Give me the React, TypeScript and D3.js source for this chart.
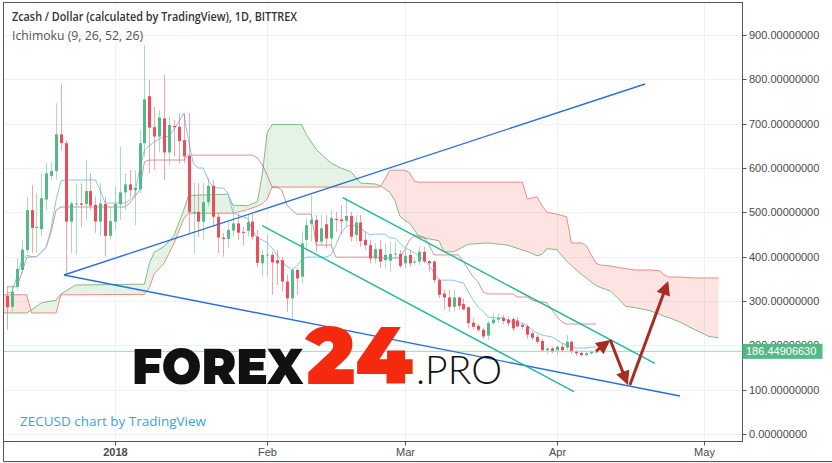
import React from "react";
import * as d3 from "d3";

// ---------------- data ----------------
const firstCandleDay = "2017-12-10";
const opens = [311,287,332,370,415,505,465,462,529,582,593,676,656,479,518,520,519,548,517,479,519,447,479,518,545,563,550,552,656,762,692,671,712,635,695,693,663,627,499,501,479,523,560,490,443,440,459,475,456,458,479,445,385,403,404,392,392,344,306,370,355,438,474,483,434,473,441,485,484,481,492,449,477,438,426,396,417,392,391,405,406,385,404,388,389,411,390,389,347,317,308,287,308,293,286,251,244,235,222,250,258,262,258,259,256,246,243,227,219,210,189,193,189,197,195,208,186,183,178,182,184];
const highs = [332,336,396,438,535,562,543,588,611,614,746,791,663,525,566,566,618,588,535,566,535,513,558,648,588,596,595,686,877,799,738,730,810,716,708,723,723,724,566,566,566,577,573,498,453,479,513,498,468,494,498,460,415,449,411,415,400,359,374,374,457,486,539,494,494,494,505,501,516,533,501,494,494,456,438,430,437,430,434,434,415,415,415,396,422,422,392,392,351,325,325,325,310,306,287,261,248,240,255,272,272,268,265,263,264,250,247,232,224,214,197,197,200,205,223,211,190,187,186,188,190];
const lows = [235,276,325,362,408,408,408,447,505,573,573,640,356,408,404,468,483,505,454,445,400,438,460,483,505,535,471,543,626,588,596,635,573,607,626,611,611,453,408,445,438,513,468,408,400,419,445,438,425,445,438,377,355,355,314,336,321,276,257,314,340,411,434,411,426,419,419,456,449,470,434,434,422,415,385,385,374,374,366,395,374,374,377,381,381,385,366,340,306,280,276,276,280,280,238,236,230,214,212,245,250,248,243,232,240,236,215,212,203,186,180,182,178,184,190,180,176,174,175,179,182];
const closes = [286,321,372,416,505,465,467,532,588,593,676,656,479,520,520,517,548,515,479,520,447,480,519,545,563,550,555,656,755,691,671,714,635,697,692,661,626,501,501,479,523,560,490,443,440,460,475,454,454,478,445,386,404,405,387,385,344,306,370,351,430,471,483,434,464,441,487,483,480,492,445,477,435,426,396,417,389,404,406,407,379,402,385,389,411,389,385,347,314,308,287,308,289,281,250,242,235,220,250,258,262,255,250,238,243,242,224,217,208,189,193,186,197,189,208,186,182,178,182,185,186.4490663];
const lastPrice = 186.4490663;

// Ichimoku conversion / base lines, one value per candle day (from 2017-12-10)
const tenkanSen = [318,320,354,392,404,400,400,410,422,465,528,571,573,573,573,573,573,573,573,550,521,521,521,521,521,528,539,596,641,650,659,665,670,672,686,704,724,660,609,600,600,573,557,555,555,544,499,494,490,487,460,442,438,431,420,404,388,379,370,379,392,399,399,399,399,399,404,426,453,467,471,471,465,456,449,451,451,451,442,442,431,420,415,408,402,393,381,363,347,347,347,347,343,341,320,302,286,277,264,262,262,262,257,253,250,250,244,235,228,223,221,219,212,205,201,196,194,194,194,196,196];
const kijunSen = [332,332,332,363,398,400,400,410,422,456,505,512,512,512,512,512,512,512,512,512,512,512,512,512,512,521,535,550,614,618,618,618,618,618,618,618,618,629,629,629,629,629,629,629,629,629,629,629,629,629,629,623,607,584,557,557,550,517,505,496,496,496,496,426,426,426,426,399,399,399,399,399,399,399,399,399,397,397,397,397,397,415,438,447,447,444,426,404,404,404,404,404,404,388,370,354,343,320,316,316,316,316,316,316,309,309,309,302,298,298,296,280,266,253,248,248,248,248,248,248,248];

// Cloud (leading spans), days counted from 2018-01-01
const cloudDays = [-23,-18,-17,-15,-12,-11,-8,6,7,8,10,12,14,15,23,24,27,29,30,31,32,38,39,41,44,46,48,49,50,53,54,55,56,57,58,59,60,61,62,66,67,69,72,76,80,83,84,86,87,88,90,92,93,95,96,97,98,99,101,103,104,106,109,111,112,113,115,118,121,123];
const senkouA = [273,273,280,296,302,316,336,338,385,410,423,447,505,538,541,516,515,524,585,680,698,698,675,642,611,600,592,580,566,564,560,553,545,527,492,482,476,460,444,436,411,411,428,431,426,415,412,402,405,418,416,390,380,360,352,343,335,330,322,300,288,285,278,270,265,262,253,236,220,217];
const senkouB = [314,314,273,273,273,314,314,315,330,362,385,430,485,498,498,498,506,514,519,530,557,557,557,557,557,557,557,557,557,557,557,575,595,595,595,595,590,570,568,568,568,568,568,568,568,568,530,535,515,500,496,490,431,431,425,405,385,381,379,375,373,370,370,368,358,354,354,352,352,352];

// axes
const priceTicks = [0,100,200,300,400,500,600,700,800,900];
const timeTickDates = ["2018-01-01","2018-02-01","2018-03-01","2018-04-01","2018-05-01"];
const timeTickLabels = ["2018","Feb","Mar","Apr","May"];

// drawings: [day from 2018-01-01, price]
const triangleUpper = [[-10.4,358.7],[108.0,789.5]];
const triangleLower = [[-10.4,358.7],[115.1,85.7]];
const channelUpper = [[46.4,533],[110.0,159.5]];
const channelLower = [[30.0,470],[93.5,95.4]];
const arrowPaths = [
  [[98.0,187],[100.9,212]],
  [[100.9,212],[104.5,110.5]],
  [[104.9,110.5],[112.7,345]],
];

// ---------------- chart ----------------
export default function App() {
  const W = 832, H = 463;
  const plot = { left: 3.5, right: 742.5, top: 2.5, bottom: 441.5 };
  const base = Date.UTC(2018, 0, 1);
  const dayMs = 86400000;
  const toDate = (d: number) => new Date(base + d * dayMs);
  const x = d3.scaleUtc()
    .domain([new Date(Date.UTC(2018, 0, 1)), new Date(Date.UTC(2018, 4, 1))])
    .range([115, 704]);
  const y = d3.scaleLinear().domain([0, 900]).range([434, 35]);
  const xd = (d: number) => x(toDate(d)) as number;
  const firstDay = Math.round((Date.parse(firstCandleDay + "T00:00:00Z") - base) / dayMs);

  const candles = opens.map((o, i) => ({
    d: firstDay + i, o, h: highs[i], l: lows[i], c: closes[i],
  }));

  const cloud = cloudDays.map((d, i) => ({ d, a: senkouA[i], b: senkouB[i] }));
  const between = d3.area<any>().x(p => xd(p.d)).y0(p => y(p.b)).y1(p => y(p.a))(cloud) || "";
  const aboveB = d3.area<any>().x(p => xd(p.d)).y0(0).y1(p => y(p.b))(cloud) || "";
  const belowB = d3.area<any>().x(p => xd(p.d)).y0(p => y(p.b)).y1(H)(cloud) || "";
  const lineA = d3.line<any>().x(p => xd(p.d)).y(p => y(p.a))(cloud) || "";
  const lineB = d3.line<any>().x(p => xd(p.d)).y(p => y(p.b))(cloud) || "";
  const dayLine = d3.line<number>().x((_, i) => xd(firstDay + i)).y(v => y(v));
  const tenkanPath = dayLine(tenkanSen) || "";
  const kijunPath = dayLine(kijunSen) || "";

  const seg = (pts: number[][]) => ({ x1: xd(pts[0][0]), y1: y(pts[0][1]), x2: xd(pts[1][0]), y2: y(pts[1][1]) });

  const up = "#53b987", down = "#eb4d5c";
  const arrowColor = "#a92a20";
  const fontAxis = "'Liberation Sans', Arial, sans-serif";

  const arrowShapes = arrowPaths.map((pts) => {
    const s = seg(pts);
    const dx = s.x2 - s.x1, dy = s.y2 - s.y1;
    const len = Math.hypot(dx, dy);
    const ux = dx / len, uy = dy / len;
    const hl = 14, hw = 7;
    const bx = s.x2 - ux * hl, by = s.y2 - uy * hl;
    const head = `M${s.x2},${s.y2}L${bx - uy * hw},${by + ux * hw}L${bx + uy * hw},${by - ux * hw}Z`;
    return { s: { ...s, x2: bx + ux * 2, y2: by + uy * 2 }, head };
  });

  const yLast = y(lastPrice);

  return (
    <svg width={W} height={H} style={{ position: "fixed", left: 0, top: 0, background: "#fff" }}>
      <defs>
        <clipPath id="plotClip">
          <rect x={plot.left} y={plot.top} width={plot.right - plot.left} height={plot.bottom - plot.top} />
        </clipPath>
        <clipPath id="clipAboveB"><path d={aboveB} /></clipPath>
        <clipPath id="clipBelowB"><path d={belowB} /></clipPath>
      </defs>

      {/* grid */}
      <g stroke="#eef1f6" strokeWidth={1}>
        {priceTicks.map(t => (
          <line key={"h" + t} x1={plot.left} x2={plot.right} y1={Math.round(y(t)) + 0.5} y2={Math.round(y(t)) + 0.5} />
        ))}
        {timeTickDates.map(t => {
          const xx = Math.round(x(new Date(t + "T00:00:00Z")) as number) + 0.5;
          return <line key={"v" + t} x1={xx} x2={xx} y1={plot.top} y2={plot.bottom} />;
        })}
      </g>

      <g clipPath="url(#plotClip)">
        {/* cloud */}
        <g clipPath="url(#clipAboveB)"><path d={between} fill="rgba(76,175,80,0.15)" /></g>
        <g clipPath="url(#clipBelowB)"><path d={between} fill="rgba(244,67,54,0.15)" /></g>
        <path d={lineA} fill="none" stroke="#85b983" strokeWidth={1} />
        <path d={lineB} fill="none" stroke="#ee8a86" strokeWidth={1} />
        <path d={kijunPath} fill="none" stroke="#b8504c" strokeOpacity={0.6} strokeWidth={1} />
        <path d={tenkanPath} fill="none" stroke="#86c3f2" strokeWidth={1} />

        {/* candles */}
        {candles.map((k, i) => {
          const cx = Math.round(xd(k.d));
          const col = k.c >= k.o ? up : down;
          const top = y(Math.max(k.o, k.c));
          const bot = y(Math.min(k.o, k.c));
          return (
            <g key={i}>
              <line x1={cx + 0.5} x2={cx + 0.5} y1={y(k.h)} y2={y(k.l)} stroke={col} strokeOpacity={0.5} strokeWidth={1} />
              <rect x={cx - 1} y={top} width={3} height={Math.max(1, bot - top)} fill={col} />
            </g>
          );
        })}

        {/* last price line */}
        <line x1={plot.left} x2={plot.right} y1={yLast} y2={yLast} stroke="#9fd8b8" strokeWidth={1} />

        {/* trend lines */}
        <g stroke="#2a6fe0" strokeWidth={1.4} fill="none">
          <line {...seg(triangleUpper)} />
          <line {...seg(triangleLower)} />
        </g>
        <g stroke="#1db99a" strokeWidth={1.4} fill="none">
          <line {...seg(channelUpper)} />
          <line {...seg(channelLower)} />
        </g>
      </g>

      {/* watermark logo */}
      <g>
        <text x={132} y={384} fontFamily="Montserrat, Inter, 'Open Sans', 'DejaVu Sans', sans-serif" fontWeight={900} fontSize={50} textLength={171} lengthAdjust="spacingAndGlyphs" fill="#111">FOREX</text>
        <text x={306} y={384} fontFamily="Montserrat, Inter, 'Open Sans', 'DejaVu Sans', sans-serif" fontWeight={900} fontSize={80} textLength={107} lengthAdjust="spacingAndGlyphs" fill="#f5290d">24</text>
        <text x={416} y={384} fontFamily="Lato, Inter, 'Open Sans', sans-serif" fontWeight={300} fontSize={40} textLength={86} lengthAdjust="spacingAndGlyphs" fill="#111">.PRO</text>
      </g>

      {/* arrows */}
      <g>
        {arrowShapes.map((a, i) => (
          <g key={i}>
            <line {...a.s} stroke={arrowColor} strokeWidth={3} />
            <path d={a.head} fill={arrowColor} />
          </g>
        ))}
      </g>

      {/* frame */}
      <g stroke="#51555e" strokeWidth={1} fill="none">
        <rect x={plot.left} y={plot.top} width={plot.right - plot.left} height={plot.bottom - plot.top} />
        <line x1={plot.left} x2={plot.left} y1={plot.bottom} y2={461.5} />
        <line x1={plot.left} x2={W} y1={461.5} y2={461.5} />
      </g>
      <rect x={0} y={462} width={W} height={1} fill="#eef1f6" />

      {/* price axis */}
      <g fontFamily={fontAxis} fontSize={11} fill="#4a4a4a">
        {priceTicks.map(t => (
          <g key={"pt" + t}>
            <line x1={plot.right} x2={plot.right + 4} y1={Math.round(y(t)) + 0.5} y2={Math.round(y(t)) + 0.5} stroke="#51555e" />
            <text x={749} y={y(t) + 4}>{t.toFixed(8)}</text>
          </g>
        ))}
        <rect x={plot.right} y={yLast - 7.5} width={80} height={15} fill="#53b987" />
        <text x={746} y={yLast + 4} fill="#fff">{lastPrice.toFixed(8)}</text>
      </g>

      {/* time axis */}
      <g fontFamily={fontAxis} fontSize={11} fill="#4a4a4a" textAnchor="middle">
        {timeTickDates.map((t, i) => {
          const xx = Math.round(x(new Date(t + "T00:00:00Z")) as number) + 0.5;
          return (
            <g key={"tt" + t}>
              <line x1={xx} x2={xx} y1={plot.bottom} y2={plot.bottom + 4} stroke="#51555e" />
              <text x={xx} y={456} fontWeight={i === 0 ? 700 : 400}>{timeTickLabels[i]}</text>
            </g>
          );
        })}
      </g>

      {/* titles */}
      <text x={12} y={21} fontFamily="'Open Sans', 'Noto Sans', sans-serif" fontWeight={600} fontSize={12} fill="#333" textLength={285} lengthAdjust="spacingAndGlyphs">Zcash / Dollar (calculated by TradingView), 1D, BITTREX</text>
      <text x={12} y={40} fontFamily="'Open Sans', 'Noto Sans', sans-serif" fontSize={12} fill="#555" textLength={131} lengthAdjust="spacingAndGlyphs">Ichimoku (9, 26, 52, 26)</text>
      <text x={20} y={426} fontFamily="'Open Sans', 'Noto Sans', sans-serif" fontSize={13} fill="#3d9fe3" textLength={186} lengthAdjust="spacingAndGlyphs">ZECUSD chart by TradingView</text>
    </svg>
  );
}
